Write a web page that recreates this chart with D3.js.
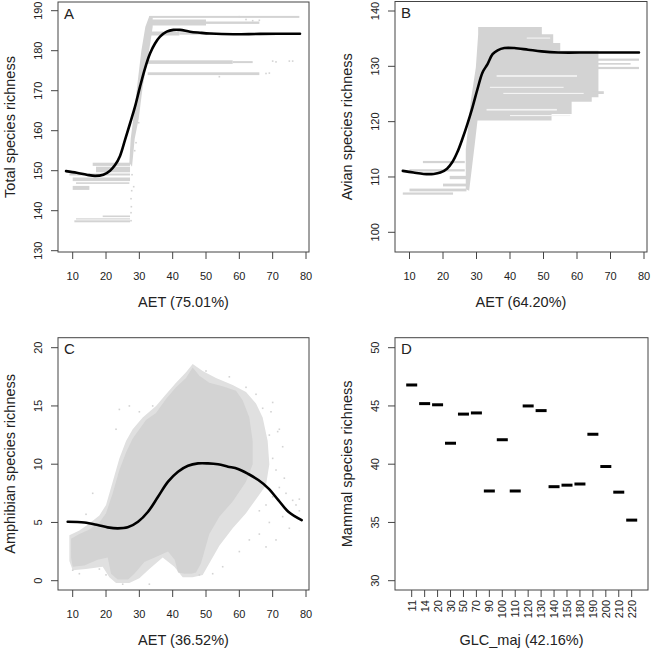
<!DOCTYPE html>
<html><head><meta charset="utf-8">
<script src="https://cdn.jsdelivr.net/npm/d3@7"></script>
<style>
body{margin:0;background:#fff}
svg{display:block}
text{font-family:"Liberation Sans",Arial,sans-serif;fill:#222}
</style>
</head><body>
<svg id="c" width="651" height="648"></svg>
<script>
// ---------------- DATA ----------------
const aetTicks = [10, 20, 30, 40, 50, 60, 70, 80];
const totalTicks = [130, 140, 150, 160, 170, 180, 190];
const avianTicks = [100, 110, 120, 130, 140];
const amphTicks = [0, 5, 10, 15, 20];
const mammalTicks = [30, 35, 40, 45, 50];

// Panel A: partial-dependence curve (AET, total richness)
const totalCurve = [[8,149.9],[11.2,149.5],[14.2,149.0],[16.7,148.7],[19.2,149.0],[21.2,150.0],[22.7,151.4],[24.2,153.7],[25.7,157.7],[27.2,161.8],[28.7,166.0],[30.2,171.0],[31.7,175.6],[33.2,179.3],[34.7,181.8],[36.2,183.5],[38.2,184.75],[40.2,185.2],[42.2,185.2],[45.2,184.75],[48.2,184.5],[51.2,184.3],[58.2,184.1],[66.2,184.2],[78.2,184.25]];
// gray point streaks [x0, x1, yLow, yHigh]
const totalStreaks = [[16,27.2,151.2,152.0],[17,27.2,149.6,151.0],[9,27.2,148.8,149.3],[10,27.2,147.4,148.3],[11,27.0,146.7,147.1],[10,15,145.2,146.2],[10.5,27.2,137.1,137.6],[11,27.2,137.8,138.1],[19,27.2,138.4,138.8],[33,78,188.2,188.7],[33,50,186.3,187.8],[50,66,186.7,187.3],[33,42,183.8,184.8],[42,52,184.0,184.6],[32.5,58,176.7,177.6],[58,64,176.9,177.4],[32.5,66,173.9,174.6]];
const totalCloud = [[27.0,152],[27.8,151],[28.6,158],[29.8,163],[31.0,171],[32.3,177],[33.3,182],[34.0,186],[34.0,188.7],[33.0,188.7],[31.8,186],[30.6,180],[29.6,173],[28.5,165],[27.4,158]];
const totalDots = [[27.5,137.5],[27.5,139.5],[27.6,141],[27.5,143],[27.7,145],[27.8,149],[28.3,146],[29,157],[28.6,155],[29.8,162],[68,174.3],[70,177.4],[75,177.4],[76,177.4],[54,173.5],[60,188.5],[62,187.8],[64,187.5],[66,187.6],[69,174.4],[71,177.2]];

// Panel B
const avianCurve = [[8,111.1],[11.2,110.8],[14.2,110.55],[17.2,110.55],[19.2,110.8],[21.2,111.5],[22.8,112.7],[24.3,114.5],[25.8,116.9],[27.3,119.6],[28.8,122.6],[30.3,125.9],[31.8,128.9],[33.3,130.4],[34.8,132.2],[36.3,132.9],[38.3,133.3],[41.3,133.3],[45.4,133.0],[49.4,132.7],[54.4,132.5],[64.4,132.5],[78.5,132.5]];
const avianStreaks = [[14,26.5,112.5,112.9],[10,26.5,111.0,111.4],[22,27,109.6,110.2],[20,27,108.3,108.8],[10,27,107.4,107.9],[8,23,106.8,107.2],[66,78.5,131.0,131.4],[66,76,130.3,130.6],[60,78.5,129.5,129.9],[64.4,68,125.0,125.5]];
const avianCloud = [[30.5,137.1],[49.5,137.1],[49.5,135.8],[52.9,135.8],[52.9,134.2],[55,134.2],[55,132.8],[66.4,132.8],[66.4,124.4],[64.4,124.4],[64.4,123.6],[58.4,123.6],[58.4,121.4],[52.4,121.4],[52.4,120.2],[30.3,120.2],[29.5,116],[28.5,111],[27.8,107.5],[26.8,107.8],[26.8,115],[27.5,119],[28.3,123.8],[29.8,129.8],[30.5,135.8]];
const avianGaps = [[36,60,128.1,128.4],[34,56,126.1,126.3],[38,62,125.0,125.2],[33,54,122.0,122.3],[40,58,121.0,121.2],[45,52,135.0,135.2]];

// Panel C
const amphCurve = [[8.5,5.06],[13.5,5.0],[17.5,4.78],[20.5,4.58],[23.5,4.49],[26.5,4.58],[29.6,5.06],[32.6,5.92],[35.6,7.2],[38.6,8.5],[41.6,9.36],[44.6,9.87],[47.6,10.07],[50.6,10.07],[53.6,9.99],[56.6,9.79],[59.6,9.59],[62.7,9.16],[65.7,8.64],[68.7,7.93],[71.7,6.92],[74.7,5.92],[78.7,5.2]];
const amphCloud = [[9.5,3.6],[12,4.0],[15,4.4],[18,5.0],[20,5.8],[22,7.5],[24,9.5],[26,11.0],[28,12.2],[30,13.0],[32,13.8],[35,14.4],[38,15.6],[41,16.6],[44,17.4],[46,18.3],[48,17.6],[51,17.0],[55,16.7],[59,16.3],[61,15.5],[63,14.0],[64,12.0],[64,10.0],[62,8.5],[58,6.8],[54,5.5],[51,4.0],[49.5,2.5],[48.5,1.5],[47,0.7],[45.6,0.6],[43.6,0.6],[41.6,0.7],[40.6,1.8],[38.6,2.5],[34.6,2.0],[31.5,1.6],[28.5,0.6],[26.6,0.1],[23.5,0.1],[21.5,0.6],[20.5,2.0],[17.5,1.8],[13.5,1.3],[10,1.2],[9.5,2.0]];
const amphFringe = [[9,3.9],[12,4.3],[15,4.9],[18,5.6],[20,6.5],[22,8.5],[24,10.5],[26,12.0],[28,13.0],[31,14.0],[35,15.0],[38,16.0],[41,17.0],[44,17.9],[46,18.6],[49,18.0],[53,17.4],[58,16.8],[62,16.2],[65,15.2],[67,14],[68.5,12],[69,10],[68,8.2],[65,7.0],[62,5.8],[58,4.5],[54,3.0],[51,1.5],[49,0.5],[46,0.3],[43,0.3],[40.5,1.2],[37,2.0],[33,1.0],[30,0.2],[27,-0.2],[23,-0.2],[21,0.3],[19,1.2],[14,1.0],[10,0.9],[9,1.7]];
const amphDots = [[16,7.5],[14,5.7],[10,0.9],[12,0.6],[24,14.7],[23,13],[27,15],[30,14.5],[34,15],[70,15.3],[72,13],[73.5,8.8],[74,7.5],[76,6.9],[77,6.5],[78,7.0],[78,6.0],[75,4.5],[73,5.5],[71,3.5],[69,5],[68,2.9],[66,4.0],[63,3.5],[60,2.5],[55,1.2],[52,0.6],[48,0.5],[33,-0.3],[25,-0.3],[20,0.5],[18,1.0],[57,17.5],[50,18.0],[62,16.6],[65,16.0],[67,14.8],[69,12.5],[70,10.5],[71,9.5],[72,8.0],[73,11.5],[71.5,12.8],[69.5,14.5],[66,6],[70,7.2],[68,6.5]];

// Panel D
const glcClasses = ["11","14","20","30","50","70","90","100","110","120","130","140","150","180","190","200","210","220"];
const mammalValues = [46.8,45.2,45.1,41.8,44.3,44.4,37.7,42.1,37.7,45.0,44.6,38.07,38.2,38.3,42.57,39.8,37.6,35.2];

// ---------------- DRAW ----------------
const svg = d3.select("#c");
const GRAY = "#d3d3d3";
const AX = "#444";

function frame(p, xTickFn) {
  const g = svg.append("g");
  g.append("rect").attr("x", p.box[0]).attr("y", p.box[2])
    .attr("width", p.box[1]-p.box[0]).attr("height", p.box[3]-p.box[2])
    .attr("fill", "none").attr("stroke", AX).attr("stroke-width", 1);
  p.yTicks.forEach(t => {
    const yy = p.y(t);
    g.append("line").attr("x1", p.box[0]-7).attr("x2", p.box[0]).attr("y1", yy).attr("y2", yy).attr("stroke", AX);
    g.append("text").attr("transform", `translate(${p.box[0]-20},${yy}) rotate(-90)`)
      .attr("text-anchor", "middle").attr("dominant-baseline", "central")
      .style("font-size", "11px").text(t);
  });
  g.append("text").attr("transform", `translate(${p.box[0]-48.5},${(p.box[2]+p.box[3])/2}) rotate(-90)`)
    .attr("text-anchor", "middle").attr("dominant-baseline", "central")
    .style("font-size", "14.5px").text(p.yTitle);
  g.append("text").attr("x", (p.box[0]+p.box[1])/2).attr("y", p.box[3]+55)
    .attr("text-anchor", "middle")
    .style("font-size", "14.5px").text(p.xTitle);
  g.append("text").attr("x", p.box[0]+6).attr("y", p.box[2]+16.5)
    .style("font-size", "15px").text(p.letter);
  xTickFn(g);
}

function aetXTicks(p) {
  return g => {
    aetTicks.forEach(t => {
      const xx = p.x(t);
      g.append("line").attr("x1", xx).attr("x2", xx).attr("y1", p.box[3]).attr("y2", p.box[3]+7).attr("stroke", AX);
      g.append("text").attr("x", xx).attr("y", p.box[3]+23.5)
        .attr("text-anchor", "middle").attr("dominant-baseline", "central")
        .style("font-size", "11px").text(t);
    });
  };
}

function contPanel(p, o) {
  const g = svg.append("g");
  const line = d3.line().x(d => p.x(d[0])).y(d => p.y(d[1]));
  if (o.fringe) g.append("path").attr("d", line(o.fringe) + "Z").attr("fill", "#e0e0e0");
  if (o.cloud) g.append("path").attr("d", line(o.cloud) + "Z").attr("fill", GRAY);
  g.selectAll("rect.s").data(o.streaks || []).enter().append("rect")
    .attr("x", d => p.x(d[0])).attr("width", d => p.x(d[1]) - p.x(d[0]))
    .attr("y", d => p.y(d[3])).attr("height", d => Math.max(1, p.y(d[2]) - p.y(d[3])))
    .attr("fill", GRAY);
  g.selectAll("rect.g").data(o.gaps || []).enter().append("rect")
    .attr("x", d => p.x(d[0])).attr("width", d => p.x(d[1]) - p.x(d[0]))
    .attr("y", d => p.y(d[3])).attr("height", d => Math.max(1, p.y(d[2]) - p.y(d[3])))
    .attr("fill", "#f4f4f4");
  g.selectAll("rect.d").data(o.dots || []).enter().append("rect")
    .attr("x", d => p.x(d[0]) - 0.8).attr("y", d => p.y(d[1]) - 0.8)
    .attr("width", 1.6).attr("height", 1.6).attr("fill", GRAY);
  g.append("path").attr("d", d3.line().curve(d3.curveCatmullRom.alpha(0.5))
      .x(d => p.x(d[0])).y(d => p.y(d[1]))(o.curve))
    .attr("fill", "none").attr("stroke", "#000").attr("stroke-width", 2.6)
    .attr("stroke-linejoin", "round").attr("stroke-linecap", "round");
  frame(p, aetXTicks(p));
}

// Panel A
const pA = {
  box: [58, 309, 2, 252],
  x: d3.scaleLinear().domain([10, 80]).range([72.7, 306]),
  y: d3.scaleLinear().domain([130, 190]).range([250.7, 10.7]),
  yTicks: totalTicks, yTitle: "Total species richness", xTitle: "AET (75.01%)", letter: "A"
};
contPanel(pA, {streaks: totalStreaks, cloud: totalCloud, dots: totalDots, curve: totalCurve});

// Panel B
const pB = {
  box: [395, 647, 1.5, 252],
  x: d3.scaleLinear().domain([10, 80]).range([409.5, 644]),
  y: d3.scaleLinear().domain([100, 140]).range([232.3, 11]),
  yTicks: avianTicks, yTitle: "Avian species richness", xTitle: "AET (64.20%)", letter: "B"
};
contPanel(pB, {streaks: avianStreaks, cloud: avianCloud, gaps: avianGaps, curve: avianCurve});

// Panel C
const pC = {
  box: [58, 309, 337.7, 590],
  x: d3.scaleLinear().domain([10, 80]).range([72.7, 306]),
  y: d3.scaleLinear().domain([0, 20]).range([580.7, 347.7]),
  yTicks: amphTicks, yTitle: "Amphibian species richness", xTitle: "AET (36.52%)", letter: "C"
};
contPanel(pC, {fringe: amphFringe, cloud: amphCloud, dots: amphDots, curve: amphCurve});

// Panel D
const pD = {
  box: [395, 648, 337.7, 590],
  x: d3.scalePoint().domain(glcClasses).range([411.7, 631.7]),
  y: d3.scaleLinear().domain([30, 50]).range([580.7, 347.7]),
  yTicks: mammalTicks, yTitle: "Mammal species richness", xTitle: "GLC_maj (42.16%)", letter: "D"
};
{
  const g = svg.append("g");
  g.selectAll("line.bar").data(glcClasses).enter().append("line")
    .attr("x1", d => pD.x(d) - 5.5).attr("x2", d => pD.x(d) + 5.5)
    .attr("y1", (d, i) => pD.y(mammalValues[i])).attr("y2", (d, i) => pD.y(mammalValues[i]))
    .attr("stroke", "#000").attr("stroke-width", 3);
  frame(pD, gg => {
    glcClasses.forEach(c => {
      const xx = pD.x(c);
      gg.append("line").attr("x1", xx).attr("x2", xx).attr("y1", pD.box[3]).attr("y2", pD.box[3]+7).attr("stroke", AX);
      gg.append("text").attr("transform", `translate(${xx},${pD.box[3]+10}) rotate(-90)`)
        .attr("text-anchor", "end").attr("dominant-baseline", "central")
        .style("font-size", "11px").text(c);
    });
  });
}
</script>
</body></html>
